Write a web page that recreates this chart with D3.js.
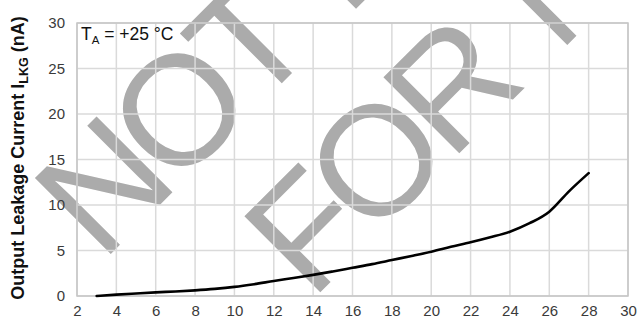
<!DOCTYPE html>
<html>
<head>
<meta charset="utf-8">
<script src="https://cdn.jsdelivr.net/npm/d3@7"></script>
<style>
  html, body { margin: 0; padding: 0; background: #fff; }
  svg { display: block; }
  text { font-family: "Liberation Sans", Arial, sans-serif; }
</style>
</head>
<body>
<div id="chart"></div>
<script>
// Output leakage current vs. output voltage, T_A = +25 °C
const voltage = [3, 4, 5, 6, 7, 8, 9, 10, 11, 12, 13, 14, 15, 16, 17, 18, 19, 20, 21, 22, 23, 24, 25, 26, 27, 28];
const leakage = [0.0, 0.15, 0.28, 0.4, 0.5, 0.62, 0.78, 1.0, 1.3, 1.65, 1.98, 2.32, 2.7, 3.1, 3.5, 3.95, 4.4, 4.87, 5.4, 5.9, 6.45, 7.07, 8.0, 9.27, 11.5, 13.5];
const xTicks = [2, 4, 6, 8, 10, 12, 14, 16, 18, 20, 22, 24, 26, 28, 30];
const yTicks = [0, 5, 10, 15, 20, 25, 30];
const watermarkLines = ["NOT RECOMMENDED", "FOR NEW DESIGN"];

const W = 638, H = 323;
const margin = { top: 23, right: 10, bottom: 27, left: 77 };
const iw = W - margin.left - margin.right;
const ih = H - margin.top - margin.bottom;

const svg = d3.select("#chart").append("svg")
  .attr("width", W).attr("height", H);

// Diagonal watermark behind everything
const wm = svg.append("g").attr("transform", "rotate(-45)");
const wmPos = [[-114, 258], [7, 433]];
watermarkLines.forEach((t, i) => {
  wm.append("text")
    .attr("x", wmPos[i][0]).attr("y", wmPos[i][1])
    .attr("font-size", 156)
    .attr("letter-spacing", -10)
    .attr("word-spacing", 17)
    .attr("fill", "#ababab")
    .text(t);
});

const x = d3.scaleLinear().domain([2, 30]).range([0, iw]);
const y = d3.scaleLinear().domain([0, 30]).range([ih, 0]);

const g = svg.append("g").attr("transform", `translate(${margin.left},${margin.top})`);

// Grid
g.append("g").selectAll("line").data(xTicks).join("line")
  .attr("x1", d => x(d)).attr("x2", d => x(d))
  .attr("y1", 0).attr("y2", ih)
  .attr("stroke", "#dadada").attr("stroke-width", 1.5);
g.append("g").selectAll("line").data(yTicks).join("line")
  .attr("x1", 0).attr("x2", iw)
  .attr("y1", d => y(d)).attr("y2", d => y(d))
  .attr("stroke", "#dadada").attr("stroke-width", 1.5);
g.append("rect")
  .attr("x", 0).attr("y", 0).attr("width", iw).attr("height", ih)
  .attr("fill", "none").attr("stroke", "#c6c6c6").attr("stroke-width", 1.5);

// Axes (labels only)
const xAxis = g.append("g").attr("transform", `translate(0,${ih})`)
  .call(d3.axisBottom(x).tickValues(xTicks).tickSize(0).tickPadding(9));
const yAxis = g.append("g")
  .call(d3.axisLeft(y).tickValues(yTicks).tickSize(0).tickPadding(12));
[xAxis, yAxis].forEach(a => {
  a.select(".domain").remove();
  a.selectAll("text")
    .attr("font-family", "'Liberation Sans', Arial, sans-serif")
    .attr("font-size", 15).attr("fill", "#3a3a3a");
});

// Curve
const line = d3.line()
  .x((d, i) => x(voltage[i]))
  .y(d => y(d))
  .curve(d3.curveMonotoneX);
g.append("path")
  .datum(leakage)
  .attr("d", line)
  .attr("fill", "none")
  .attr("stroke", "#000")
  .attr("stroke-width", 2.6)
  .attr("stroke-linecap", "round");

// Condition label
const cond = g.append("text")
  .attr("x", 4).attr("y", 17)
  .attr("font-size", 17.5).attr("fill", "#111");
cond.append("tspan").text("T");
cond.append("tspan").attr("font-size", 11.5).attr("dy", 4).text("A");
cond.append("tspan").attr("dy", -4).text(" = +25 °C");

// Y-axis title
const yt = svg.append("text")
  .attr("transform", "translate(24,158) rotate(-90)")
  .attr("text-anchor", "middle")
  .attr("font-size", 18).attr("font-weight", "bold").attr("fill", "#111");
yt.append("tspan").text("Output Leakage Current I");
yt.append("tspan").attr("font-size", 12.5).attr("dy", 4).text("LKG");
yt.append("tspan").attr("dy", -4).text(" (nA)");
</script>
</body>
</html>
